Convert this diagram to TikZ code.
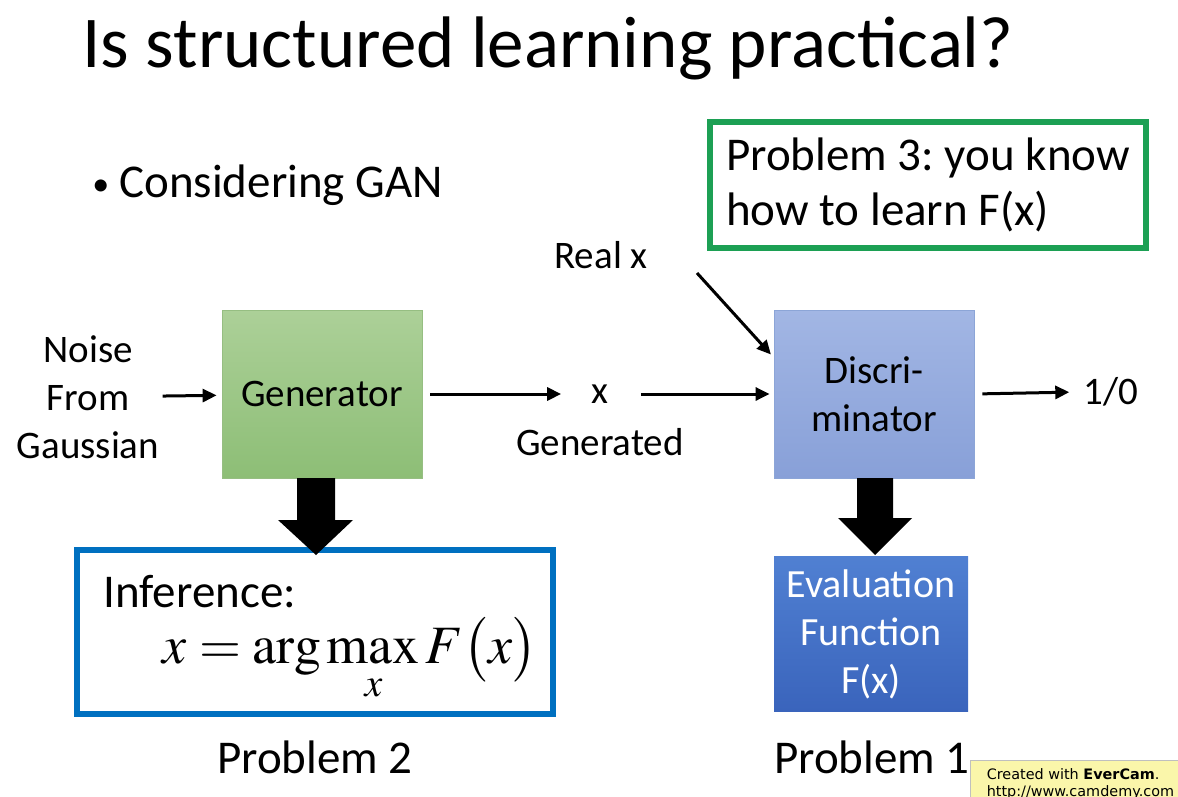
\documentclass[tikz,border=0pt]{standalone}
\usepackage{mathptmx}
\usepackage{fontspec}
\setmainfont{Carlito}
\newfontfamily\camfont{DejaVu Sans}
\usetikzlibrary{positioning,arrows.meta}
\frenchspacing

\definecolor{gentop}{RGB}{172,208,152}
\definecolor{genbot}{RGB}{141,190,118}
\definecolor{genline}{RGB}{150,190,130}
\definecolor{disctop}{RGB}{162,182,228}
\definecolor{discbot}{RGB}{136,160,216}
\definecolor{discline}{RGB}{140,165,215}
\definecolor{evaltop}{RGB}{80,128,210}
\definecolor{evalbot}{RGB}{58,100,188}
\definecolor{infblue}{RGB}{0,112,192}
\definecolor{probgreen}{RGB}{28,160,84}
\definecolor{camyellow}{RGB}{250,246,170}

\begin{document}
\begin{tikzpicture}[x=0.5pt,y=-0.5pt,
  every node/.style={font=\fontsize{19.5}{24}\selectfont, inner sep=3pt},
  big/.style={font=\fontsize{23.5}{27.5}\selectfont},
  block/.style={minimum width=100pt, minimum height=84pt, align=center},
  line/.style={-{Triangle[length=7pt,width=6.5pt]}, line width=1.5pt},
  thick box/.style={line width=2.6pt, align=left}]
\useasboundingbox (0,0) rectangle (1178,797);

% title and bullet
\node[anchor=base west, font=\fontsize{36.5}{40}\selectfont] (title) at (76,68) {Is structured learning practical?};
\node[big, anchor=west] (bullet) at (86,185) {\raisebox{1pt}{\fontsize{17}{17}\selectfont\textbullet}\hspace{5pt}Considering GAN};

% problem 3
\node[thick box, big, draw=probgreen, minimum width=218pt, minimum height=63pt] (prob3) at (928,185)
  {Problem 3: you know\\how to learn F(x)};

% generator and discriminator
\node[align=center] (noise) at (88,397) {Noise\\From\\Gaussian};
\node[block, draw=genline, top color=gentop, bottom color=genbot] (gen) at (322,394) {Generator};
\node (xg) at (600,394) {x};
\node (genlab) at (600,442) {Generated};
\node[block, draw=discline, top color=disctop, bottom color=discbot] (disc) at (874,394) {Discri-\\minator};
\node (real) at (601,255) {Real x};
\coordinate (realtail) at (697,273);
\node (out) at (1111,392) {1/0};

\draw[line, shorten <=-1.5pt, shorten >=2.5pt] (noise) -- (gen);
\draw[line, shorten <=4pt, shorten >=12pt] (gen.east) -- (xg.west |- gen.east);
\draw[line, shorten <=13pt, shorten >=2pt] (xg.east) -- (disc.west |- xg.east);
\draw[line, shorten >=2pt] (realtail) -- (disc.160);
\draw[line, shorten <=4pt, shorten >=4pt] (disc.east) -- (out.west);

% lower boxes
\node[thick box, draw=infblue, minimum width=238pt, minimum height=82pt] (inf) at (315,632) {};
\node[big, anchor=west] (inflab) at (97,592) {Inference:};
\node[font=\fontsize{27}{30}\selectfont] (infeq) at (350,660) {$\displaystyle x=\arg\max_{x} F\bigl(x\bigr)$};
\node[block, minimum width=97pt, minimum height=77.5pt, top color=evaltop, bottom color=evalbot,
  text=white, font=\fontsize{20}{24}\selectfont] (eval) at (871,634) {Evaluation\\Function\\F(x)};

% block arrows
\fill (316,555) -- (353,520) -- (335,520) -- (335,478) -- (297,478) -- (297,520) -- (278,520) -- cycle;
\fill (875,555) -- (912,518) -- (893,518) -- (893,478) -- (857,478) -- (857,518) -- (838,518) -- cycle;

\node[big] (prob2) at (315,757) {Problem 2};
\node[big] (prob1) at (872,757) {Problem 1};

% watermark
\node[draw=gray!50, fill=camyellow, anchor=north west, align=left, inner sep=4pt,
  minimum width=110pt, minimum height=22pt, font=\camfont\fontsize{7.2}{8.5}\selectfont] (cam) at (970,760)
  {Created with \textbf{EverCam}.\\http://www.camdemy.com};
\end{tikzpicture}
\end{document}
